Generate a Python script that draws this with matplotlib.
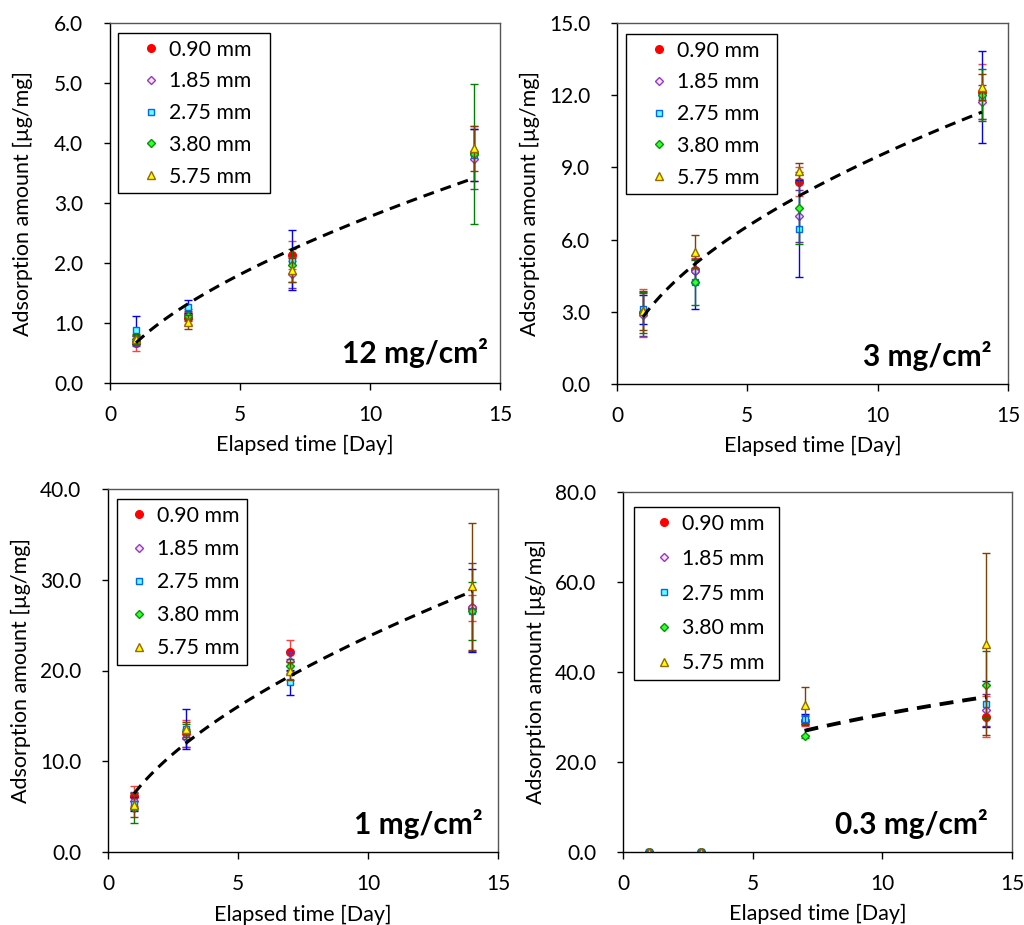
import numpy as np
import matplotlib.pyplot as plt
from matplotlib.ticker import FormatStrFormatter

plt.rcParams['font.family'] = ['Lato', 'DejaVu Sans']

# elapsed days and particle sizes
days = [1, 3, 7, 14]
sizes = ['0.90 mm', '1.85 mm', '2.75 mm', '3.80 mm', '5.75 mm']

# 12 mg/cm2 : mean and error per size (rows) and day (cols)
mean_12 = [[0.66, 1.08, 2.13, 3.83],
           [0.70, 1.15, 1.81, 3.73],
           [0.88, 1.27, 2.05, 3.80],
           [0.73, 1.12, 1.96, 3.82],
           [0.73, 1.02, 1.88, 3.91]]
err_12 = [[0.13, 0.10, 0.23, 0.46],
          [0.08, 0.08, 0.22, 0.50],
          [0.23, 0.11, 0.50, 0.43],
          [0.08, 0.08, 0.28, 1.17],
          [0.07, 0.12, 0.20, 0.38]]

# 3 mg/cm2
mean_3 = [[2.95, 4.75, 8.40, 12.15],
          [2.88, 4.70, 6.98, 11.71],
          [3.10, 4.22, 6.46, 11.93],
          [2.98, 4.22, 7.30, 12.00],
          [3.05, 5.50, 8.86, 12.35]]
err_3 = [[1.00, 0.50, 0.60, 1.15],
         [0.90, 0.50, 1.10, 0.70],
         [0.60, 1.12, 2.00, 1.90],
         [0.85, 0.92, 1.50, 1.08],
         [0.80, 0.68, 0.33, 0.55]]

# 1 mg/cm2
mean_1 = [[6.2, 13.1, 22.0, 26.9],
          [5.6, 12.6, 21.0, 27.0],
          [5.3, 13.6, 18.7, 26.6],
          [4.85, 13.3, 20.5, 26.6],
          [5.2, 13.5, 19.9, 29.3]]
err_1 = [[1.1, 1.5, 1.4, 1.4],
         [1.0, 1.0, 1.0, 4.8],
         [0.8, 2.2, 1.35, 4.6],
         [1.7, 0.8, 0.8, 3.2],
         [1.3, 0.8, 1.0, 7.0]]

# 0.3 mg/cm2
mean_03 = [[0, 0, 29.2, 30.1],
           [0, 0, 29.3, 31.6],
           [0, 0, 29.5, 32.9],
           [0, 0, 25.7, 37.2],
           [0, 0, 32.6, 46.2]]
err_03 = [[0, 0, 1.3, 4.5],
          [0, 0, 1.0, 3.5],
          [0, 0, 1.1, 5.2],
          [0, 0, 0.4, 7.5],
          [0, 0, 4.1, 20.3]]

# power trendlines y = a * x^b
trend_a = [0.67, 2.79, 6.43, 13.5]
trend_b = [0.617, 0.530, 0.567, 0.355]
trend_start = [1, 1, 1, 7]
trend_end = [14, 14, 14, 14]

panel_labels = ['12 mg/cm²', '3 mg/cm²', '1 mg/cm²', '0.3 mg/cm²']
ymax = [6, 15, 40, 80]
ystep = [1, 3, 10, 20]

# marker styles per size
markers = ['o', 'D', 's', 'D', '^']
msizes = [5.5, 4.5, 5.0, 4.5, 6.0]
faces = ['#FF0000', '#FFE6FF', '#66FFFF', '#33FF33', '#FFFF00']
edges = ['#FF0000', '#9933CC', '#0066FF', '#009900', '#996600']
ecolors = ['#FF4040', '#7030A0', '#0000FF', '#008000', '#7F3F00']

W, H = 1024, 925
fig = plt.figure(figsize=(W / 100, H / 100), dpi=100)


def px_rect(l, t, r, b):
    return [l / W, 1 - b / H, (r - l) / W, (b - t) / H]


rects = [(110, 23, 500, 383), (617, 23, 1008, 384),
         (108, 489, 498, 852), (623, 492, 1012, 852)]
# legend box (px) and layout tweaks per panel
leg_boxes = [(118, 33, 270, 195), (626, 34, 777, 196),
             (117, 499, 247, 666), (634, 507, 779, 682)]
leg_spacing = [0.55, 0.55, 0.62, 0.70]
leg_handlelen = [2.46, 2.42, 1.45, 2.17]
leg_textpad = [-0.38, -0.34, 0.11, -0.21]
label_offsets = [(12, 20), (16, 18), (15, 18), (24, 18)]
trend_lw = [2.2, 2.2, 2.2, 2.8]

means = [mean_12, mean_3, mean_1, mean_03]
errs = [err_12, err_3, err_1, err_03]

for k in range(4):
    l, t, r, b = rects[k]
    ax = fig.add_axes(px_rect(l, t, r, b))
    aw, ah = r - l, b - t

    handles = []
    for i in range(5):
        ax.errorbar(days, means[k][i], yerr=errs[k][i], fmt='none',
                    ecolor=ecolors[i], elinewidth=1.0, capsize=3,
                    capthick=1.0, zorder=2 + i * 0.1)
        h, = ax.plot(days, means[k][i], linestyle='none', marker=markers[i],
                     markersize=msizes[i], markerfacecolor=faces[i],
                     markeredgecolor=edges[i], markeredgewidth=1.0,
                     label=sizes[i], zorder=2.05 + i * 0.1)
        handles.append(h)

    xt = np.linspace(trend_start[k], trend_end[k], 100)
    ax.plot(xt, trend_a[k] * xt ** trend_b[k], color='black',
            linestyle=(0, (3.6, 2.3)), linewidth=trend_lw[k], zorder=5)

    ax.set_xlim(0, 15)
    ax.set_ylim(0, ymax[k])
    ax.set_xticks([0, 5, 10, 15])
    ax.set_yticks(np.arange(0, ymax[k] + ystep[k] / 2, ystep[k]))
    ax.yaxis.set_major_formatter(FormatStrFormatter('%.1f'))
    ax.tick_params(axis='both', direction='out', width=1.0, labelsize=15,
                   colors='black')
    ax.tick_params(axis='y', length=4.3, pad=15)
    ax.tick_params(axis='x', length=5, pad=10.5)

    for s in ['left', 'bottom']:
        ax.spines[s].set_color('black')
        ax.spines[s].set_linewidth(1.0)
    for s in ['top', 'right']:
        ax.spines[s].set_color('#555555')
        ax.spines[s].set_linewidth(1.0)

    ax.set_xlabel('Elapsed time [Day]', fontsize=15.5)
    ax.set_ylabel('Adsorption amount [µg/mg]', fontsize=15.5)
    ax.yaxis.set_label_coords(-0.198, 0.5)
    ax.xaxis.set_label_coords(0.5, -0.145)

    dx, dy = label_offsets[k]
    ax.text(1 - dx / aw, dy / ah, panel_labels[k], transform=ax.transAxes,
            ha='right', va='baseline', fontsize=21.5, fontweight='bold')

    ll, lt, lr, lb = leg_boxes[k]
    x0 = (ll - l) / aw
    y1 = (b - lt) / ah
    leg = ax.legend(handles=handles, loc='upper left', mode='expand',
                    bbox_to_anchor=(x0, y1 - 0.5, (lr - ll) / aw, 0.5),
                    borderaxespad=0, borderpad=0.32, fontsize=15.3,
                    labelspacing=leg_spacing[k], handlelength=leg_handlelen[k],
                    handletextpad=leg_textpad[k], numpoints=1,
                    fancybox=False, framealpha=1, edgecolor='black')
    leg.get_frame().set_linewidth(1.0)
    leg.set_zorder(6)

fig.savefig('out.png', dpi=100)
